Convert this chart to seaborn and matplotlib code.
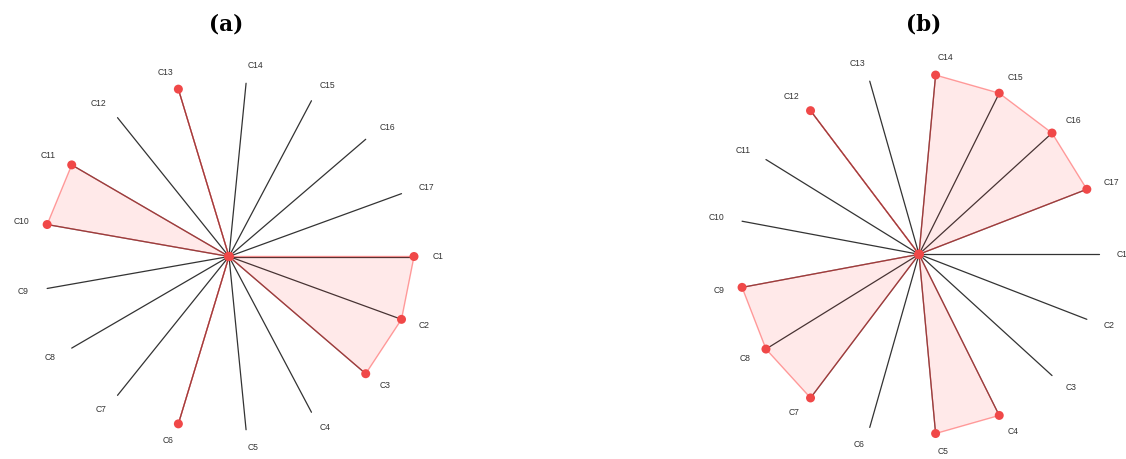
import numpy as np
import pandas as pd
import matplotlib
matplotlib.use("Agg")
import matplotlib.pyplot as plt
import seaborn as sns

categories = ["C1", "C2", "C3", "C4", "C5", "C6", "C7", "C8", "C9",
              "C10", "C11", "C12", "C13", "C14", "C15", "C16", "C17"]
values_a = [1, 1, 1, 0, 0, 1, 0, 0, 0, 1, 1, 0, 1, 0, 0, 0, 0]
values_b = [0, 0, 0, 1, 1, 0, 1, 1, 1, 0, 0, 1, 0, 1, 1, 1, 1]
titles = ["(a)", "(b)"]

sns.set_theme(style="white")
plt.rcParams["font.family"] = ["Liberation Sans", "DejaVu Sans"]

fig = plt.figure(figsize=(11.26, 4.59), dpi=100)
W, H = 1126, 459
# (center x, center y from top, radius x, radius y, title x) in pixels
boxes = [(229, 256.5, 185, 174, 226), (919, 254.3, 180, 180, 924)]

n = len(categories)
theta = np.arange(n) * 2 * np.pi / n

for vals, title, (cx, cy, rx, ry, tx) in zip([values_a, values_b], titles, boxes):
    ax = fig.add_axes([(cx - rx) / W, (H - cy - ry) / H, 2 * rx / W, 2 * ry / H],
                      projection="polar")
    ax.set_aspect("auto")
    ax.set_theta_zero_location("E")
    ax.set_theta_direction(-1)
    ax.set_ylim(0, 1)
    ax.grid(False)
    ax.set_xticks([])
    ax.set_yticks([])
    ax.spines["polar"].set_visible(False)
    ax.patch.set_alpha(0)

    # spokes
    for t in theta:
        ax.plot([t, t], [0, 1], color="#333333", lw=0.9, clip_on=False, zorder=1)

    df = pd.DataFrame({"theta": theta, "value": vals})
    closed_t = np.append(theta, theta[0])
    closed_v = np.append(np.array(vals, float), vals[0])
    ax.fill(closed_t, closed_v, color="#FF3030", alpha=0.1, lw=0, zorder=2, clip_on=False)
    ax.plot(closed_t, closed_v, color="#FF4040", alpha=0.5, lw=1.0, zorder=3, clip_on=False)
    sns.scatterplot(data=df, x="theta", y="value", ax=ax, color="#F04848",
                    s=42, edgecolor="none", zorder=4, legend=False)
    for c in ax.collections:
        c.set_clip_on(False)
    ax.set_xlabel("")
    ax.set_ylabel("")
    ax.set_ylim(0, 1)

    for t, lab in zip(theta, categories):
        ha = "left" if np.cos(t) > 0 else "right"
        ax.text(t, 1.1, lab, ha=ha, va="center", fontsize=6.2, color="#333333",
                clip_on=False)

    fig.text(tx / W, 1 - 24.5 / H, title, ha="center", va="center", fontsize=15.5,
             fontweight="bold", color="black", family=["DejaVu Serif"])

fig.savefig("out.png", dpi=100)
